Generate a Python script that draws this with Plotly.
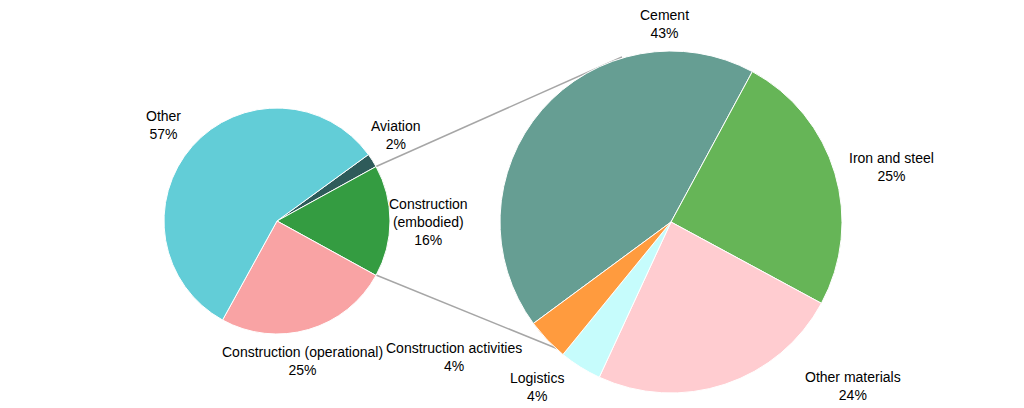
import plotly.graph_objects as go

W, H = 1024, 408

# Left pie: share of emissions
left_cats = ["Aviation", "Construction (embodied)", "Construction (operational)", "Other"]
left_labels = ["Aviation", "Construction<br>(embodied)", "Construction (operational)", "Other"]
left_vals = [2, 16, 25, 57]
left_colors = ["#2E5B5A", "#349C41", "#F9A3A4", "#62CDD7"]

# Right pie: breakdown of embodied construction
right_cats = ["Cement", "Iron and steel", "Other materials", "Logistics", "Construction activities"]
right_labels = right_cats
right_vals = [43, 25, 24, 4, 4]
right_colors = ["#669E93", "#66B557", "#FFCCD0", "#C6FCFC", "#FF9B3E"]

# label positions (pixel centres)
left_pos = [(396, 135), (428, 222), (302, 361), (163, 125)]
right_pos = [(664, 24), (891, 167), (853, 386), (537, 387), (454, 357)]


def px(x):
    return x / W


def py(y):
    return 1 - y / H


fig = go.Figure()
fig.add_trace(go.Pie(
    labels=left_cats, values=left_vals, sort=False, direction="clockwise",
    rotation=54, marker=dict(colors=left_colors, line=dict(color="white", width=1)),
    textinfo="none", hoverinfo="label+percent", showlegend=False,
    domain=dict(x=[px(164), px(390)], y=[py(334), py(108)]),
))
fig.add_trace(go.Pie(
    labels=right_cats, values=right_vals, sort=False, direction="clockwise",
    rotation=-126.4, marker=dict(colors=right_colors, line=dict(color="white", width=1)),
    textinfo="none", hoverinfo="label+percent", showlegend=False,
    domain=dict(x=[px(500), px(842)], y=[py(393), py(51)]),
))

annotations = []
for lab, v, (x, y) in list(zip(left_labels, left_vals, left_pos)) + list(zip(right_labels, right_vals, right_pos)):
    annotations.append(dict(
        x=px(x), y=py(y), xref="paper", yref="paper", showarrow=False,
        text=f"{lab}<br>{v}%", xanchor="center", yanchor="middle", align="center",
        font=dict(family="Liberation Sans, Arial", size=14, color="#000000"),
    ))

shapes = [
    dict(type="line", xref="paper", yref="paper", x0=px(375), y0=py(167), x1=px(622), y1=py(57),
         line=dict(color="#A6A6A6", width=1.5), layer="below"),
    dict(type="line", xref="paper", yref="paper", x0=px(376), y0=py(275), x1=px(600), y1=py(366),
         line=dict(color="#A6A6A6", width=1.5), layer="below"),
]

fig.update_layout(
    width=W, height=H, margin=dict(l=0, r=0, t=0, b=0),
    paper_bgcolor="white", plot_bgcolor="white",
    annotations=annotations, shapes=shapes,
    font=dict(family="Liberation Sans, Arial", size=14),
)

fig.write_html(
    "out.html",
    config={"displayModeBar": False},
    post_script="document.body.style.margin='0';document.body.style.overflow='hidden';",
)
